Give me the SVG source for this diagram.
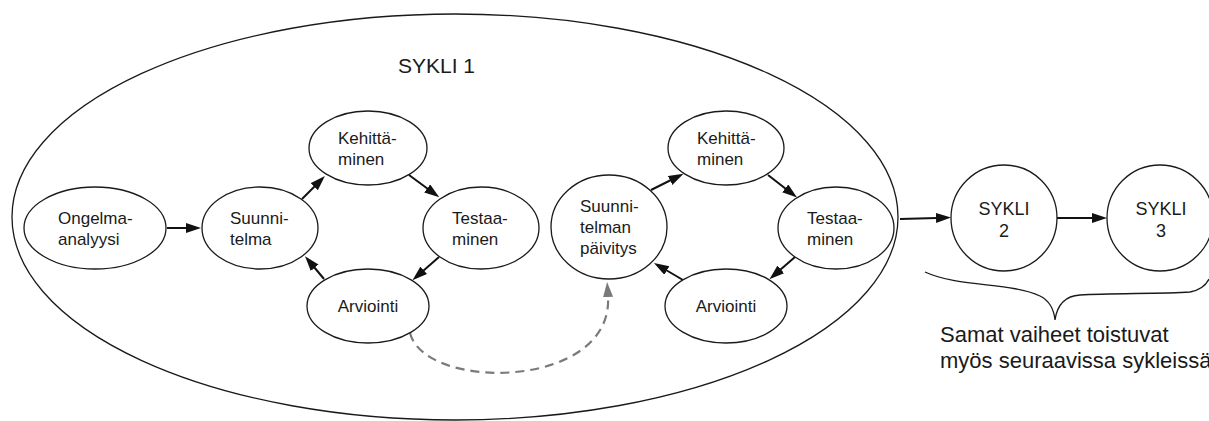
<svg xmlns="http://www.w3.org/2000/svg" width="1209" height="421" viewBox="0 0 1209 421">
  <style>
    .node { fill: #ffffff; stroke: #1a1a1a; stroke-width: 1.3; }
    .frame { fill: none; stroke: #1a1a1a; stroke-width: 1.3; }
    .lbl { font-family: "Liberation Sans", Arial, sans-serif; font-size: 17px; fill: #1a1a1a; }
    .big { font-family: "Liberation Sans", Arial, sans-serif; font-size: 21px; fill: #1a1a1a; }
    .cyc { font-family: "Liberation Sans", Arial, sans-serif; font-size: 18px; fill: #1a1a1a; text-anchor: middle; }
    .edge { fill: none; stroke: #111111; stroke-width: 2; }
    .dash { fill: none; stroke: #7a7a7a; stroke-width: 2.2; stroke-dasharray: 9 6; }
  </style>
  <defs>
    <marker id="arrow" markerUnits="userSpaceOnUse" markerWidth="16" markerHeight="12" refX="1" refY="5" orient="auto">
      <path d="M0,0 L15,5 L0,10 z" fill="#111111"/>
    </marker>
    <marker id="arrowGray" markerUnits="userSpaceOnUse" markerWidth="16" markerHeight="12" refX="1" refY="5" orient="auto">
      <path d="M0,0 L15,5 L0,10 z" fill="#7a7a7a"/>
    </marker>
  </defs>

  <rect x="0" y="0" width="1209" height="421" fill="#ffffff"/>

  <!-- cycle 1 boundary -->
  <g id="sykli1">
    <ellipse class="frame" cx="455" cy="217" rx="443" ry="203"/>
    <text class="big" x="398" y="73">SYKLI 1</text>
  </g>

  <!-- connectors -->
  <g id="connectors">
    <line class="edge" x1="167" y1="228" x2="187" y2="228" marker-end="url(#arrow)"/>
    <line class="edge" x1="302" y1="199" x2="315" y2="186" marker-end="url(#arrow)"/>
    <line class="edge" x1="409" y1="175" x2="428" y2="189" marker-end="url(#arrow)"/>
    <line class="edge" x1="439" y1="257" x2="423" y2="271" marker-end="url(#arrow)"/>
    <line class="edge" x1="324" y1="279" x2="314" y2="267" marker-end="url(#arrow)"/>

    <line class="edge" x1="651" y1="190" x2="671" y2="180" marker-end="url(#arrow)"/>
    <line class="edge" x1="768" y1="175" x2="786" y2="189" marker-end="url(#arrow)"/>
    <line class="edge" x1="795" y1="257" x2="780" y2="270" marker-end="url(#arrow)"/>
    <line class="edge" x1="683" y1="280" x2="666" y2="270" marker-end="url(#arrow)"/>

    <path class="dash" d="M410,333 C425,392 614,390 608,296" marker-end="url(#arrowGray)"/>

    <line class="edge" x1="900" y1="219" x2="937" y2="218" marker-end="url(#arrow)"/>
    <line class="edge" x1="1057" y1="218" x2="1093" y2="218" marker-end="url(#arrow)"/>
  </g>

  <!-- first cycle nodes -->
  <g id="ongelma-analyysi">
    <ellipse class="node" cx="95" cy="228" rx="71" ry="41"/>
    <text class="lbl" x="58" y="224">Ongelma-</text>
    <text class="lbl" x="58" y="245">analyysi</text>
  </g>
  <g id="suunnitelma">
    <ellipse class="node" cx="260" cy="228" rx="58" ry="41"/>
    <text class="lbl" x="230" y="224">Suunni-</text>
    <text class="lbl" x="230" y="245">telma</text>
  </g>
  <g id="kehittaminen-1">
    <ellipse class="node" cx="368" cy="148" rx="59" ry="37"/>
    <text class="lbl" x="338" y="144">Kehittä-</text>
    <text class="lbl" x="338" y="165">minen</text>
  </g>
  <g id="testaaminen-1">
    <ellipse class="node" cx="481" cy="228" rx="58" ry="41"/>
    <text class="lbl" x="452" y="224">Testaa-</text>
    <text class="lbl" x="452" y="245">minen</text>
  </g>
  <g id="arviointi-1">
    <ellipse class="node" cx="368" cy="306" rx="61" ry="37"/>
    <text class="lbl" x="368" y="312" text-anchor="middle">Arviointi</text>
  </g>

  <!-- revised cycle nodes -->
  <g id="suunnitelman-paivitys">
    <ellipse class="node" cx="609" cy="227" rx="58" ry="52"/>
    <text class="lbl" x="580" y="212">Suunni-</text>
    <text class="lbl" x="580" y="233">telman</text>
    <text class="lbl" x="580" y="254">päivitys</text>
  </g>
  <g id="kehittaminen-2">
    <ellipse class="node" cx="726" cy="148" rx="58" ry="37"/>
    <text class="lbl" x="697" y="144">Kehittä-</text>
    <text class="lbl" x="697" y="165">minen</text>
  </g>
  <g id="testaaminen-2">
    <ellipse class="node" cx="836" cy="228" rx="58" ry="41"/>
    <text class="lbl" x="807" y="224">Testaa-</text>
    <text class="lbl" x="807" y="245">minen</text>
  </g>
  <g id="arviointi-2">
    <ellipse class="node" cx="726" cy="306" rx="61" ry="37"/>
    <text class="lbl" x="726" y="312" text-anchor="middle">Arviointi</text>
  </g>

  <!-- later cycles -->
  <g id="sykli2">
    <circle class="node" cx="1004" cy="218" r="53"/>
    <text class="cyc" x="1004" y="215">SYKLI</text>
    <text class="cyc" x="1004" y="237">2</text>
  </g>
  <g id="sykli3">
    <circle class="node" cx="1160" cy="218" r="53"/>
    <text class="cyc" x="1161" y="215">SYKLI</text>
    <text class="cyc" x="1161" y="237">3</text>
  </g>

  <!-- brace and note -->
  <g id="note">
    <path class="frame" d="M925,272 C960,288 1010,282 1040,296 C1050,301 1054,310 1055,320 C1057,306 1064,296 1080,295 C1110,293 1160,294 1190,292 C1200,290 1206,285 1209,279"/>
    <text class="big" x="940" y="342" style="font-size:22px">Samat vaiheet toistuvat</text>
    <text class="big" x="940" y="368" style="font-size:22px">myös seuraavissa sykleissä</text>
  </g>
</svg>
